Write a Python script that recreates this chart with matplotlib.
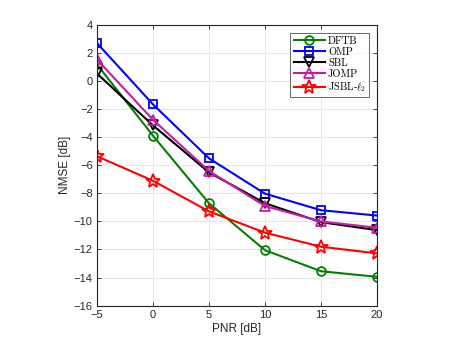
import matplotlib
matplotlib.use("Agg")
import matplotlib.pyplot as plt

pnr = [-5, 0, 5, 10, 15, 20]
dftb = [1.2, -3.88, -8.7, -12.05, -13.55, -13.95]
omp = [2.72, -1.65, -5.5, -8.02, -9.2, -9.58]
sbl = [0.55, -3.15, -6.5, -8.7, -10.05, -10.62]
jomp = [1.55, -2.75, -6.4, -8.9, -10.0, -10.45]
jsbl = [-5.35, -7.1, -9.28, -10.8, -11.8, -12.28]
labels = ["DFTB", "OMP", "SBL", "JOMP", r"JSBL-$\ell_2$"]

plt.rcParams['font.family'] = ['Liberation Sans', 'DejaVu Sans']
plt.rcParams['mathtext.fontset'] = 'cm'

fig = plt.figure(figsize=(4.57, 3.43), dpi=100)
ax = fig.add_axes([0.212, 0.109, 0.613, 0.818])

series = [
    (dftb, '#008000', 'o', 6.3),
    (omp, '#0000ff', 's', 6.0),
    (sbl, '#000000', 'v', 7.0),
    (jomp, '#c71aa8', '^', 7.0),
    (jsbl, '#ff0000', '*', 10),
]
for (vals, c, m, ms), lab in zip(series, labels):
    ax.plot(pnr, vals, color=c, marker=m, markersize=ms, markerfacecolor='none',
            markeredgecolor=c, markeredgewidth=1.3, linewidth=1.5, label=lab)

ax.set_xlim(-5, 20)
ax.set_ylim(-16, 4)
ax.set_xticks([-5, 0, 5, 10, 15, 20])
ax.set_yticks(list(range(-16, 5, 2)))
ax.grid(True, color='#e6e6e6', linewidth=0.8)
ax.set_axisbelow(True)
for s in ax.spines.values():
    s.set_color('#262626')
    s.set_linewidth(0.8)
ax.tick_params(direction='in', length=3, width=0.6, colors='#262626', labelsize=8, pad=3,
               top=True, right=True)
ax.set_xlabel('PNR [dB]', fontsize=8.5, color='#262626', labelpad=2)
ax.set_ylabel('NMSE [dB]', fontsize=8.5, color='#262626', labelpad=2)

leg = ax.legend(loc='upper right', bbox_to_anchor=(0.972, 0.972),
                prop={'family': 'cmr10', 'size': 7.5},
                frameon=True, fancybox=False, edgecolor='#262626',
                handlelength=3.0, borderpad=0.3, labelspacing=0.15,
                handletextpad=0.3, borderaxespad=0.0)
leg.get_frame().set_linewidth(0.6)

fig.savefig('out.png', dpi=100)
